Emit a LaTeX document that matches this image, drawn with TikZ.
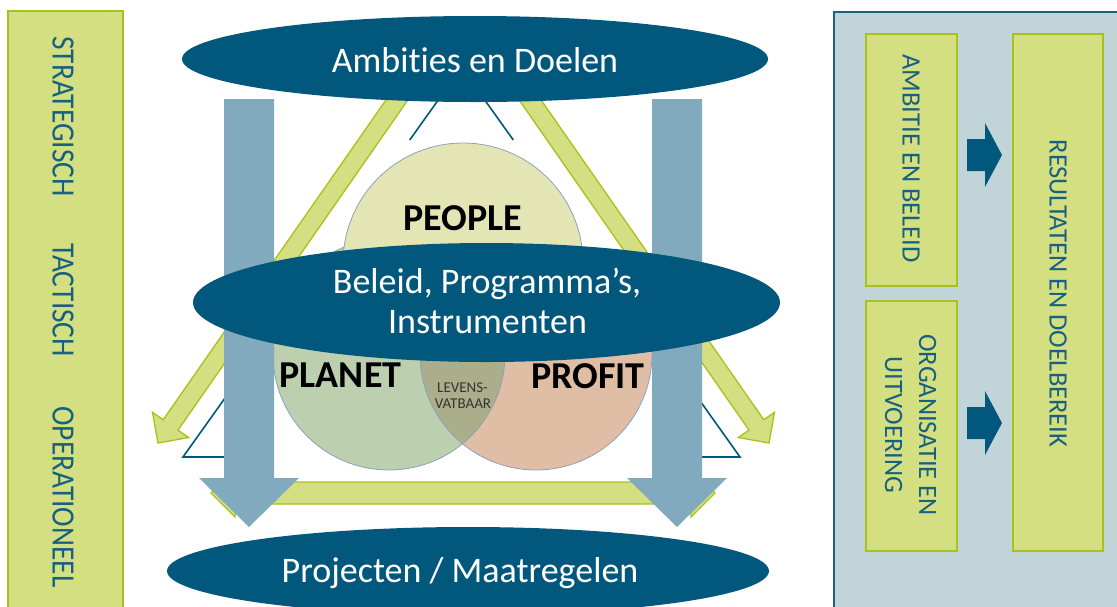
\documentclass[tikz,border=0pt]{standalone}
\usepackage{fontspec}
\setmainfont[Ligatures={NoCommon}]{Carlito}
\definecolor{cTeal}{HTML}{02587C}
\definecolor{cTxt}{HTML}{18607F}
\definecolor{cGreen}{HTML}{D3DF80}
\definecolor{cGreenB}{HTML}{A7C21C}
\definecolor{cBlue}{HTML}{82AABE}
\definecolor{cPanel}{HTML}{C1D5D9}
\definecolor{cPanelB}{HTML}{1D5F7F}
\definecolor{cPeople}{HTML}{E4E5B4}
\definecolor{cPlanet}{HTML}{BCCFAF}
\definecolor{cProfit}{HTML}{E0BEA6}
\definecolor{cLens}{HTML}{ABAE8B}
\definecolor{cCircB}{HTML}{8DA1B9}
\newcommand{\narrowtxt}[1]{\scalebox{0.905}[1]{#1}}
\begin{document}
\begin{tikzpicture}[x=1pt,y=-1pt,
  greenbox/.style={fill=cGreen, draw=cGreenB, line width=1.5pt},
  band/.style={fill=cGreen, draw=cGreenB, line width=1.3pt, line join=miter},
  tri/.style={draw=cTeal, line width=1.6pt},
  bluearrow/.style={fill=cBlue},
  darkellipse/.style={fill=cTeal},
  circ/.style={draw=cCircB, line width=0.8pt},
  wtxt/.style={text=white, font=\fontsize{36}{43}\selectfont, inner sep=0pt},
  ctxt/.style={text=black, font=\fontsize{38}{44}\selectfont\bfseries, inner sep=0pt},
  stxt/.style={text=black!80, font=\fontsize{15}{17}\selectfont, inner sep=0pt},
  ltxt/.style={text=cTxt, font=\fontsize{32.5}{36}\selectfont, inner sep=0pt, rotate=-90},
  rtxt/.style={text=cTxt, font=\fontsize{26.5}{34}\selectfont, inner sep=0pt, rotate=-90, align=center}
]
\useasboundingbox (0,0) rectangle (1117,606);
\clip (0,0) rectangle (1117,606);

% left bar
\draw[greenbox] (8,11) rectangle (123,620);
\node[ltxt] (strat) at (63,116.5) {\narrowtxt{STRATEGISCH}};
\node[ltxt] (tact) at (63,300) {\narrowtxt{TACTISCH}};
\node[ltxt] (oper) at (63,497) {\narrowtxt{OPERATIONEEL}};

% right panel
\draw[fill=cPanel, draw=cPanelB, line width=1.5pt] (834,12) rectangle (1125,620);
\draw[greenbox] (866,34) rectangle (957,286);
\draw[greenbox] (866,301) rectangle (957,551);
\draw[greenbox] (1013,34) rectangle (1103,551);
\node[rtxt] (ambb) at (911,158.5) {AMBITIE EN BELEID};
\node[rtxt] (orga) at (910.5,425) {ORGANISATIE EN\\UITVOERING};
\node[rtxt] (resu) at (1058,293.5) {RESULTATEN EN DOELBEREIK};
\fill[cTeal] (967,139) -- (985,139) -- (985,123) -- (1002,155) -- (985,187) -- (985,171) -- (967,171) -- cycle;
\fill[cTeal] (967,407) -- (985,407) -- (985,391) -- (1002,423) -- (985,455) -- (985,439) -- (967,439) -- cycle;

% thin triangle (visible pieces)
\draw[tri] (441.8,95) -- (409.7,140);
\draw[tri] (481.2,95) -- (513.3,140);
\draw[tri, line join=miter] (235,384) -- (183,457) -- (240,457);
\draw[tri, line join=miter] (688,384) -- (740,457) -- (683,457);

% green cycle bands
\draw[band] (425.2,75.1) -- (178.0,430.1) -- (188.7,437.5) -- (158,443) -- (152.5,412.3) -- (163.2,419.7) -- (410.4,64.9) -- cycle;
\draw[band] (501.8,75.1) -- (749.0,430.1) -- (738.3,437.5) -- (769,443) -- (774.5,412.3) -- (763.8,419.7) -- (516.6,64.9) -- cycle;
\draw[band] (211,493) -- (235,469) -- (235,482) -- (691,482) -- (691,469) -- (715,493) -- (691,517) -- (691,504) -- (235,504) -- (235,517) -- cycle;

% venn circles
\fill[cPlanet] (389,354) circle[radius=116pt];
\fill[cProfit] (536,354) circle[radius=116pt];
\begin{scope}
  \clip (389,354) circle[radius=116pt];
  \fill[cLens] (536,354) circle[radius=116pt];
\end{scope}
\draw[circ] (389,354) circle[radius=116pt];
\draw[circ] (536,354) circle[radius=116pt];
\begin{scope}
  \clip (300,100) rectangle (620,320);
  \fill[cPeople] (463,263) circle[radius=120pt];
  \draw[circ] (463,263) circle[radius=120pt];
\end{scope}
\node[ctxt, anchor=base] (people) at (463,230) {PEOPLE};
\node[ctxt, anchor=base] (planet) at (340.5,387) {PLANET};
\node[ctxt, anchor=base] (profit) at (588,388) {PROFIT};
\node[stxt, anchor=base] (lev1) at (462.5,392) {LEVENS-};
\node[stxt, anchor=base] (lev2) at (463,408) {VATBAAR};

% vertical blue arrows
\fill[bluearrow] (224,99) -- (274,99) -- (274,478) -- (299,478) -- (249,527) -- (199,478) -- (224,478) -- cycle;
\fill[bluearrow] (652,99) -- (702,99) -- (702,478) -- (727,478) -- (677,527) -- (627,478) -- (652,478) -- cycle;

% ellipses
\fill[darkellipse] (475,59) ellipse[x radius=293pt, y radius=43pt];
\fill[darkellipse] (486.5,302.5) ellipse[x radius=293.5pt, y radius=59.5pt];
\fill[darkellipse] (468,571) ellipse[x radius=301pt, y radius=44pt];
\node[wtxt, anchor=base] (amb) at (475,72) {Ambities en Doelen};
\node[wtxt, anchor=base] (bel) at (487,293) {Beleid, Programma’s,};
\node[wtxt, anchor=base] (ins) at (487.5,333) {Instrumenten};
\node[wtxt, anchor=base] (proj) at (460,582) {Projecten / Maatregelen};
\end{tikzpicture}
\end{document}
